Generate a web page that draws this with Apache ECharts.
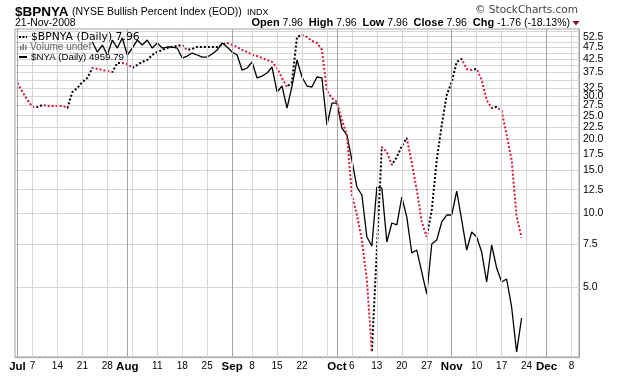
<!DOCTYPE html>
<html>
<head>
<meta charset="utf-8">
<script src="https://cdn.jsdelivr.net/npm/echarts@6/dist/echarts.min.js"></script>
<style>
  html, body { margin: 0; padding: 0; background: #fff; }
  #chart { width: 620px; height: 376px; }
</style>
</head>
<body>
<div id="chart"></div>
<script>
// $BPNYA daily values, one per trading day from 2008-07-01 to 2008-11-21
const bpnya = [
  33.99, 31.24, 28.99, 27.14, 27.14, 27.66, 27.40, 27.40, 27.40, 27.40,
  26.89, 31.24, 32.44, 34.32, 35.63, 39.14, 38.77, 38.41, 38.05, 37.69,
  41.02, 41.02, 40.64, 39.14, 40.26, 41.41, 42.19, 44.22, 45.48, 46.34,
  47.22, 47.67, 48.12, 48.57, 46.34, 46.78, 47.67, 47.67, 47.67, 47.67,
  47.67, 48.57, 49.49, 48.57, 47.67, 46.34, 45.48, 44.22, 43.80, 42.99,
  42.19, 41.41, 39.14, 35.63, 32.74, 34.32, 52.35, 53.34, 52.35, 50.41,
  49.49, 46.34, 31.50, 29.50, 28.45, 24.00, 20.88, 11.90, 9.86, 7.80,
  5.36, 2.73, 7.10, 18.65, 17.80, 15.75, 16.98, 18.83, 20.29, 16.05,
  12.46, 9.23, 8.02, 10.33, 16.51, 22.93, 30.38, 34.32, 41.41, 42.59,
  38.77, 38.41, 38.77, 34.98, 28.99, 26.89, 27.14, 26.14, 20.88, 16.51,
  9.72, 7.96
];

// $NYA overlay (own hidden scale); hidden under the legend for the first days
const nya = [
  null, null, null, null, null, null, null, null, null, null,
  null, null, null, null, null,
  8309, 8155, 8263, 8110, 8340, 8216, 8372, 8110, 8216, 8340,
  8263, 8340, 8216, 8294, 8216, 8232, 8232, 8216, 8064, 8094,
  8140, 8110, 8079, 8079, 8125, 8186, 8294, 8232, 8155, 8110,
  7885, 7915, 8004, 7769, 7797, 7841, 7930, 7568, 7653, 7344,
  7653, 8034, 7783, 7653, 7639, 7783, 7769, 7115, 7413, 7413,
  7075, 6983, 6664, 6336, 6242, 5771, 5675, 6336, 6324, 5717,
  5924, 5902, 6219, 5990, 5601, 5632, 5405, 5187, 5696, 5738,
  5935, 6013, 6013, 6289, 5957, 5632, 5825, 5771, 5611, 5305,
  5685, 5446, 5305, 5335, 5063, 4654, 4959.79
];

const gridValues = [5, 7.5, 10, 12.5, 15, 17.5, 20, 22.5, 25, 27.5, 30, 32.5, 35, 37.5, 40, 42.5, 45, 47.5, 50, 52.5, 55];
const labelValues = [5, 7.5, 10, 12.5, 15, 17.5, 20, 22.5, 25, 27.5, 30, 32.5, 37.5, 42.5, 47.5];
const topLabelValues = [52.5]; // on its own axis so it is not dropped as an overlapping max label
const holidays = ['2008-07-04', '2008-09-01', '2008-11-27'];
const monthNames = ['Jan', 'Feb', 'Mar', 'Apr', 'May', 'Jun', 'Jul', 'Aug', 'Sep', 'Oct', 'Nov', 'Dec'];

const yMin = 2.6, yMax = 56.4;

// trading days, axis runs a bit past the last close
const days = [];
for (let d = new Date(Date.UTC(2008, 6, 1)); d <= new Date(Date.UTC(2008, 11, 9)); d.setUTCDate(d.getUTCDate() + 1)) {
  const wd = d.getUTCDay();
  const s = d.toISOString().slice(0, 10);
  if (wd === 0 || wd === 6 || holidays.includes(s)) continue;
  days.push(s);
}
const isMonday = s => new Date(s + 'T00:00:00Z').getUTCDay() === 1;
const monthStart = days.map((s, i) => i === 0 || s.slice(5, 7) !== days[i - 1].slice(5, 7));

const labelAt = days.map((s, i) => {
  if (monthStart[i]) return '{m|' + monthNames[+s.slice(5, 7) - 1] + '}';
  if (isMonday(s)) {
    for (let k = i - 2; k <= i + 2; k++) if (monthStart[k]) return null;
    return String(+s.slice(8));
  }
  return null;
});

const vLines = [];
days.forEach((s, i) => {
  if (monthStart[i]) vLines.push({ xAxis: s, lineStyle: { color: '#a4a4a4' } });
  else if (isMonday(s)) vLines.push({ xAxis: s, lineStyle: { color: '#d6d6d6' } });
});

// black when rising, red when falling
const upColor = '#000000';
const downColor = '#d8183c';
const pieces = [];
let cur = null, start = 0;
for (let i = 0; i < bpnya.length - 1; i++) {
  const d = bpnya[i + 1] - bpnya[i];
  const c = d < 0 ? downColor : d > 0 ? upColor : (cur || downColor);
  if (c !== cur) {
    if (cur) pieces.push({ gte: start, lt: i, color: cur });
    cur = c;
    start = i;
  }
}
pieces.push({ gte: start, lte: bpnya.length - 1, color: cur });

const txt = (x, y, text, font, fill, extra) => ({
  type: 'text', x: x, y: y, z: 100,
  style: Object.assign({ text: text, font: font, fill: fill || '#000', verticalAlign: 'middle', textVerticalAlign: 'middle' }, extra || {})
});

const yLabel = {
  formatter: v => v.toFixed(1),
  hideOverlap: false,
  margin: 4,
  color: '#000',
  fontSize: 10.5,
  fontFamily: 'Liberation Sans'
};

const chart = echarts.init(document.getElementById('chart'));
const option = {
  animation: false,
  backgroundColor: '#fff',
  grid: {
    left: 15, right: 41, top: 29, bottom: 19,
    show: true, borderColor: '#a0a0a0', borderWidth: 1
  },
  xAxis: {
    type: 'category',
    data: days,
    boundaryGap: true,
    axisLine: { lineStyle: { color: '#a0a0a0' } },
    axisTick: { show: true, interval: 0, length: 2, alignWithLabel: true, lineStyle: { color: '#c8c8c8' } },
    splitLine: { show: false },
    axisLabel: {
      interval: idx => labelAt[idx] != null,
      formatter: (v, idx) => labelAt[idx] || '',
      margin: 4,
      color: '#000',
      fontSize: 10,
      fontFamily: 'Liberation Sans',
      rich: {
        m: { fontWeight: 'bold', fontSize: 11.5, fontFamily: 'Liberation Sans', color: '#000' }
      }
    }
  },
  yAxis: [{
    type: 'log',
    position: 'right',
    min: yMin,
    max: yMax,
    axisLine: { show: true, lineStyle: { color: '#a0a0a0' } },
    axisTick: { show: false, customValues: gridValues },
    axisLabel: Object.assign({ customValues: labelValues }, yLabel),
    splitLine: { show: true, lineStyle: { color: '#d6d6d6' } }
  }, {
    type: 'log',
    min: 4611,
    max: 8514,
    show: false,
    splitLine: { show: false }
  }, {
    type: 'log',
    position: 'right',
    min: yMin,
    max: yMax,
    axisLine: { show: false },
    axisTick: { show: false, customValues: topLabelValues },
    axisLabel: Object.assign({ customValues: topLabelValues }, yLabel),
    splitLine: { show: false }
  }],
  visualMap: {
    show: false,
    type: 'piecewise',
    seriesIndex: 2,
    dimension: 0,
    pieces: pieces
  },
  series: [{
    name: 'grid',
    type: 'line',
    data: [],
    z: 1,
    silent: true,
    markLine: {
      silent: true,
      symbol: ['none', 'none'],
      label: { show: false },
      lineStyle: { type: 'solid', width: 1 },
      animation: false,
      data: vLines
    }
  }, {
    name: '$NYA',
    type: 'line',
    yAxisIndex: 1,
    data: nya,
    showSymbol: false,
    z: 3,
    lineStyle: { color: '#000', width: 1.3 },
    itemStyle: { color: '#000' }
  }, {
    name: '$BPNYA',
    type: 'line',
    yAxisIndex: 0,
    data: bpnya,
    showSymbol: false,
    z: 4,
    lineStyle: { width: 2, type: [2, 2] }
  }],
  graphic: [
    txt(15, 12, '$BPNYA', 'bold 13.5px "Liberation Sans"'),
    txt(72, 12.5, '(NYSE Bullish Percent Index (EOD))', '10.5px "Liberation Sans"'),
    txt(247, 13, 'INDX', '9px "Liberation Sans"'),
    txt(15, 23, '21-Nov-2008', '10.5px "Liberation Sans"'),
    txt(570, 23, '{b|Open} 7.96  {b|High} 7.96  {b|Low} 7.96  {b|Close} 7.96  {b|Chg} -1.76 (-18.13%)',
      '10.5px "Liberation Sans"', '#000', {
        align: 'right', textAlign: 'right',
        rich: { b: { fontWeight: 'bold', fontSize: 11, fontFamily: 'Liberation Sans', fill: '#000' } }
      }),
    { type: 'polygon', z: 100, shape: { points: [[572.5, 21], [579.5, 21], [576, 25.5]] }, style: { fill: '#8c1030' } },
    txt(578, 10.5, '\u00a9 StockCharts.com', '10.5px "DejaVu Sans"', '#444', { align: 'right', textAlign: 'right' }),
    // legend block inside the plot
    { type: 'line', z: 100, shape: { x1: 19, y1: 37, x2: 27, y2: 37 }, style: { stroke: '#000', lineWidth: 2, lineDash: [2, 1.5] } },
    txt(31, 37.5, '$BPNYA (Daily) 7.96', '10.8px "DejaVu Sans"'),
    { type: 'rect', z: 100, shape: { x: 20, y: 46, width: 1.5, height: 4 }, style: { fill: '#777' } },
    { type: 'rect', z: 100, shape: { x: 22.5, y: 44, width: 1.5, height: 6 }, style: { fill: '#777' } },
    { type: 'rect', z: 100, shape: { x: 25, y: 45, width: 1.5, height: 5 }, style: { fill: '#777' } },
    txt(30, 47, 'Volume undef', '10px "Liberation Sans"', '#666'),
    { type: 'line', z: 100, shape: { x1: 19, y1: 57, x2: 27, y2: 57 }, style: { stroke: '#000', lineWidth: 2 } },
    txt(31, 57, '$NYA (Daily) 4959.79', '9.7px "Liberation Sans"')
  ]
};
chart.setOption(option);
</script>
</body>
</html>
